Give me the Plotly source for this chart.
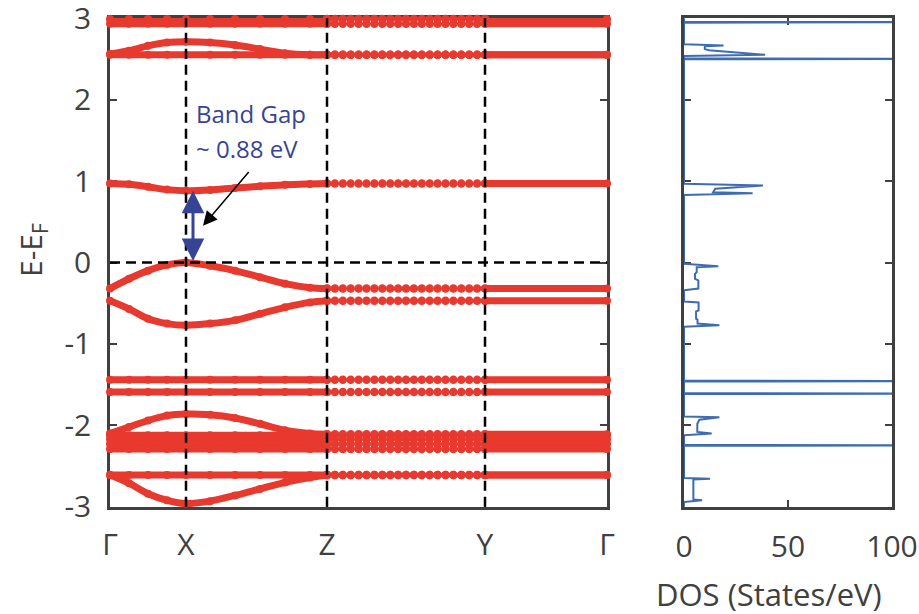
import numpy as np
import plotly.graph_objects as go

# ---------------- band structure data ----------------
K_NODES = [0.0, 0.76, 2.17, 3.75, 4.97]
K_LABELS = ["Γ", "X", "Z", "Y", "Γ"]

# k-points sampled along Γ → X → Z
K_GXZ = [0.0, 0.19, 0.38, 0.57, 0.76, 1.0, 1.25, 1.5, 1.75, 2.0, 2.17]

# dispersive bands along Γ → X → Z (eV, relative to E_F)
BAND_C1 = [0.97, 0.96, 0.93, 0.895, 0.88, 0.89, 0.915, 0.935, 0.955, 0.965, 0.97]
BAND_V1 = [-0.32, -0.20, -0.10, -0.03, 0.0, -0.04, -0.10, -0.18, -0.26, -0.31, -0.32]
BAND_V2 = [-0.47, -0.57, -0.69, -0.75, -0.77, -0.75, -0.71, -0.63, -0.55, -0.49, -0.47]
BAND_U1 = [2.56, 2.60, 2.66, 2.70, 2.71, 2.70, 2.67, 2.62, 2.57, 2.55, 2.55]
BAND_V5 = [-2.10, -2.02, -1.94, -1.88, -1.86, -1.87, -1.91, -1.98, -2.06, -2.10, -2.11]
BAND_V9 = [-2.61, -2.71, -2.84, -2.92, -2.96, -2.93, -2.86, -2.78, -2.70, -2.64, -2.61]

# flat bands (eV)
FLAT_LEVELS = [2.99, 2.93, 2.55, -1.44, -1.59, -2.12, -2.17, -2.23, -2.29, -2.61]

# sparse k-grid on Z → Y, dense segment Y → Γ
N_ZY = 21
K_YG = [3.75, 4.97]

GAP = min(BAND_C1) - max(BAND_V1)

# ---------------- density of states (step profile) ----------------
DOS_E = [3.00, 2.955, 2.95, 2.945,
         2.68, 2.665, 2.655, 2.62, 2.605, 2.55, 2.535,
         2.505, 2.50, 2.495,
         0.966, 0.945, 0.905, 0.863, 0.85, 0.83,
         -0.016, -0.045, -0.057, -0.12, -0.14, -0.20, -0.22, -0.32, -0.34,
         -0.48, -0.49, -0.59, -0.60, -0.69, -0.70, -0.75, -0.77, -0.79,
         -1.45, -1.456, -1.462,
         -1.605, -1.61, -1.615,
         -1.89, -1.90, -1.93, -1.98, -2.08, -2.10, -2.12,
         -2.24, -2.245, -2.25,
         -2.645, -2.654, -2.665, -2.91, -2.92, -2.94, -3.00]
DOS_VAL = [0, 0, 140, 0,
           0, 19, 10, 10, 12, 39, 0,
           0, 140, 0,
           0, 38, 15, 14, 33, 0,
           0, 16.5, 6.1, 6.1, 5.3, 5.3, 6.9, 6.9, 0,
           0, 7, 7, 5.8, 5.8, 6.5, 6.5, 17, 0,
           0, 140, 0,
           0, 140, 0,
           0, 17, 7.4, 6.4, 6.4, 13.3, 0,
           0, 140, 0,
           0, 12.5, 4.5, 4.5, 8.7, 0, 0]

RED = "rgb(232,57,47)"
LINK = "rgb(95,125,190)"
NAVY = "rgb(55,68,150)"
DOS_BLUE = "rgb(62,108,178)"
INK = "#404040"
FONT = "Open Sans"

dispersive = [BAND_U1, BAND_C1, BAND_V1, BAND_V2, BAND_V5, BAND_V9]
bands_gxz = dispersive + [[lvl] * len(K_GXZ) for lvl in FLAT_LEVELS]

k_zy = list(np.linspace(K_NODES[2], K_NODES[3], N_ZY))

dense_x, dense_y = [], []
sparse_x, sparse_y = [], []
for band in bands_gxz:
    e_z = band[-1]
    dense_x += K_GXZ + [None] + K_YG + [None]
    dense_y += band + [None] + [e_z, e_z] + [None]
    sparse_x += k_zy + [None]
    sparse_y += [e_z] * N_ZY + [None]

fig = go.Figure()

# dense sampling: Γ-X-Z and Y-Γ
fig.add_trace(go.Scatter(
    x=dense_x, y=dense_y, mode="lines+markers",
    line=dict(color=RED, width=7, shape="spline", smoothing=0.8),
    marker=dict(color=RED, size=8),
    cliponaxis=False, hoverinfo="skip", xaxis="x", yaxis="y"))

# coarse sampling: Z-Y
fig.add_trace(go.Scatter(
    x=sparse_x, y=sparse_y, mode="lines+markers",
    line=dict(color=LINK, width=1),
    marker=dict(color=RED, size=8.5),
    cliponaxis=False, hoverinfo="skip", xaxis="x", yaxis="y"))

# density of states
fig.add_trace(go.Scatter(
    x=DOS_VAL, y=DOS_E, mode="lines",
    line=dict(color=DOS_BLUE, width=2),
    hoverinfo="skip", xaxis="x2", yaxis="y2"))

# dashed guide lines at high-symmetry points and at E_F
dash = dict(color="black", width=2.5, dash="10px,6px")
for k in K_NODES[1:4]:
    fig.add_shape(type="line", xref="x", yref="y", x0=k, x1=k, y0=-3, y1=3,
                  line=dash, layer="above")
fig.add_shape(type="line", xref="x", yref="y", x0=K_NODES[0], x1=K_NODES[-1],
              y0=0, y1=0, line=dash, layer="above")

# band-gap arrow and labels
k_arrow = K_NODES[1] + 0.07
fig.add_annotation(x=k_arrow, y=GAP, ax=k_arrow, ay=0.0, xref="x", yref="y",
                   axref="x", ayref="y", text="", showarrow=True,
                   arrowside="end+start", arrowhead=2, arrowsize=1.5,
                   arrowwidth=3, arrowcolor=NAVY, standoff=0, startstandoff=0)
fig.add_annotation(x=0.93, y=0.45, ax=1.40, ay=1.13, xref="x", yref="y",
                   axref="x", ayref="y", text="", showarrow=True,
                   arrowhead=2, arrowsize=1.9, arrowwidth=1.5,
                   arrowcolor="black", standoff=0)
fig.add_annotation(x=0.84, y=1.83, xref="x", yref="y", text="Band Gap",
                   showarrow=False, xanchor="left", yanchor="middle",
                   font=dict(family=FONT, size=24, color=NAVY))
fig.add_annotation(x=0.84, y=1.40, xref="x", yref="y",
                   text=f"~ {GAP:.2f} eV",
                   showarrow=False, xanchor="left", yanchor="middle",
                   font=dict(family=FONT, size=24, color=NAVY))

# axis titles
fig.add_annotation(x=32 / 919, y=(614 - 250) / 614, xref="paper", yref="paper",
                   text="E-E<sub>F</sub>", textangle=-90, showarrow=False,
                   xanchor="center", yanchor="middle",
                   font=dict(family=FONT, size=30, color=INK))
fig.add_annotation(x=769 / 919, y=(614 - 594) / 614, xref="paper", yref="paper",
                   text="DOS (States/eV)", showarrow=False,
                   xanchor="center", yanchor="middle",
                   font=dict(family=FONT, size=31, color=INK))

y_dom = [(614 - 507) / 614, (614 - 18) / 614]
axis_common = dict(showline=True, linewidth=2.5, linecolor=INK, mirror="ticks",
                   ticks="inside", ticklen=7, tickwidth=2, tickcolor=INK,
                   showgrid=False, zeroline=False, automargin=False,
                   layer="below traces", ticklabeloverflow="allow",
                   tickfont=dict(family=FONT, size=30, color=INK))
y_ticks = [-3, -2, -1, 0, 1, 2, 3]
y_range = [-3.002, 3.002]

fig.update_layout(
    width=919, height=614,
    margin=dict(l=0, r=0, t=0, b=0),
    paper_bgcolor="white", plot_bgcolor="white",
    showlegend=False,
    xaxis=dict(domain=[110 / 919, 607 / 919], range=[K_NODES[0], K_NODES[-1]],
               tickvals=K_NODES, ticktext=K_LABELS, anchor="y",
               ticklabelstandoff=9, **axis_common),
    yaxis=dict(domain=y_dom, range=y_range, tickvals=y_ticks,
               ticktext=[str(t) for t in y_ticks], anchor="x",
               ticklabelstandoff=10, **axis_common),
    xaxis2=dict(domain=[684 / 919, 892 / 919], range=[0, 100],
                tickvals=[0, 50, 100], ticktext=["0", "50", "100"], anchor="y2",
                ticklabelstandoff=11, **axis_common),
    yaxis2=dict(domain=y_dom, range=y_range, tickvals=y_ticks,
                showticklabels=False, anchor="x2", **axis_common),
)

fig.write_html("out.html")
